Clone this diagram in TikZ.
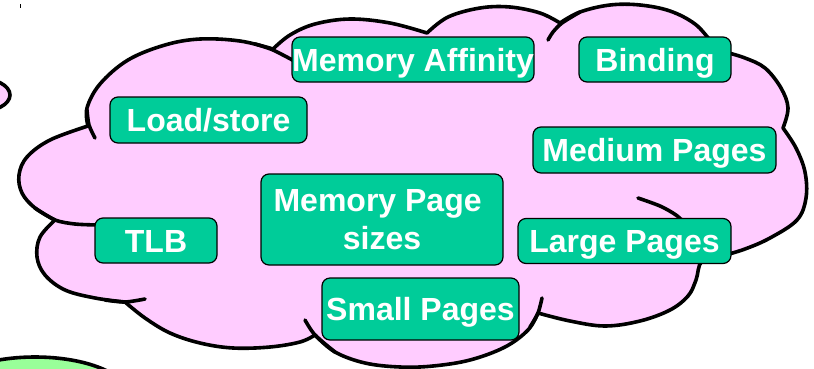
\documentclass[tikz,border=0pt]{standalone}
\usepackage{fontspec}
\setmainfont{Liberation Sans}
\definecolor{cloudPink}{HTML}{FFCCFF}
\definecolor{tagGreen}{HTML}{00CC99}
\definecolor{paleGreen}{HTML}{99FF99}
\begin{document}
\begin{tikzpicture}[x=1pt,y=-1pt,
  rim/.style={line width=3.6pt, line cap=round, line join=round},
  tag/.style={draw=black, line width=1.2pt, fill=tagGreen, rounded corners=8pt,
    inner sep=0pt, text=white, font=\bfseries\fontsize{32}{38}\selectfont,
    text height=23pt, text depth=0pt},
  tagtall/.style={tag, text height=, text depth=, align=center}]
\useasboundingbox (0,0) rectangle (814,368);

% neighbouring shapes cut off at the edges
\draw[rim, fill=cloudPink] (-22,95) ellipse [x radius=32pt, y radius=17pt];
\draw[rim, fill=paleGreen] (35,395) ellipse [x radius=93pt, y radius=38pt];
\draw[line width=1pt] (20,4) -- (20,8);

% outer rim of the cloud, lobe by lobe
\draw[rim, fill=cloudPink]
  plot[smooth, tension=0.6] coordinates {(88,126) (87,108) (100,84) (128,60) (165,45) (200,39) (240,41) (273,49)}
  -- plot[smooth, tension=0.6] coordinates {(273,49) (290,35) (315,24) (350,19) (390,23) (427,33)}
  -- plot[smooth, tension=0.6] coordinates {(427,33) (448,17) (480,8) (510,7) (540,13) (560,23)}
  -- plot[smooth, tension=0.6] coordinates {(560,23) (580,12) (610,5) (640,5) (670,11) (695,24) (712,42) (725,52)}
  -- plot[smooth, tension=0.6] coordinates {(725,52) (745,58) (765,68) (781,88) (788,108) (783,128)}
  -- plot[smooth, tension=0.6] coordinates {(783,128) (796,148) (805,172) (806,198) (797,220) (770,238) (745,249) (722,256)}
  -- plot[smooth, tension=0.6] coordinates {(722,256) (702,261) (696,280) (688,296) (670,310) (640,321) (605,326) (570,321) (538,313)}
  -- plot[smooth, tension=0.6] coordinates {(538,313) (528,330) (505,347) (470,360) (433,366) (400,367) (365,363) (335,352) (315,335)}
  -- plot[smooth, tension=0.6] coordinates {(315,335) (300,342) (270,347) (233,348) (200,343) (170,333) (145,318) (125,302)}
  -- plot[smooth, tension=0.6] coordinates {(125,302) (95,298) (65,290) (45,275) (37,257) (40,237) (55,220)}
  -- plot[smooth, tension=0.6] coordinates {(55,220) (35,208) (22,193) (19,175) (27,157) (50,140) (88,126)}
  -- cycle;

% inner arcs where the lobes overlap
\draw[rim] plot[smooth] coordinates {(87,110) (89,125) (95,138)};
\draw[rim] plot[smooth] coordinates {(255,44) (273,50) (298,63)};
\draw[rim] plot[smooth] coordinates {(580,12) (562,23) (553,32) (548,40)};
\draw[rim] plot[smooth] coordinates {(638,198) (660,206) (676,215) (688,226)};
\draw[rim] plot[smooth] coordinates {(530,327) (538,313) (542,298)};
\draw[rim] plot[smooth] coordinates {(335,352) (315,335) (305,320)};
\draw[rim] plot[smooth] coordinates {(105,300) (125,302) (145,299)};
\draw[rim] plot[smooth] coordinates {(35,208) (55,220) (75,224) (98,225)};

% labels
\node[tag, minimum width=242pt, minimum height=45pt] (affinity) at (413,59.5) {Memory Affinity};
\node[tag, minimum width=152pt, minimum height=45pt] (binding) at (655,59.5) {Binding};
\node[tag, minimum width=197pt, minimum height=46pt] (loadstore) at (208.5,120) {Load/store};
\node[tag, minimum width=243pt, minimum height=46pt] (medium) at (654.5,150) {Medium Pages};
\node[tagtall, minimum width=242pt, minimum height=91pt] (sizes) at (382,219.5) {Memory Page\kern8.8pt\\sizes};
\node[tag, minimum width=122pt, minimum height=45pt] (tlb) at (156,240.5) {TLB};
\node[tag, minimum width=213pt, minimum height=45pt] (large) at (624.5,241) {Large Pages};
\node[tag, minimum width=197pt, minimum height=62pt] (small) at (420.5,309) {Small Pages};
\end{tikzpicture}
\end{document}
